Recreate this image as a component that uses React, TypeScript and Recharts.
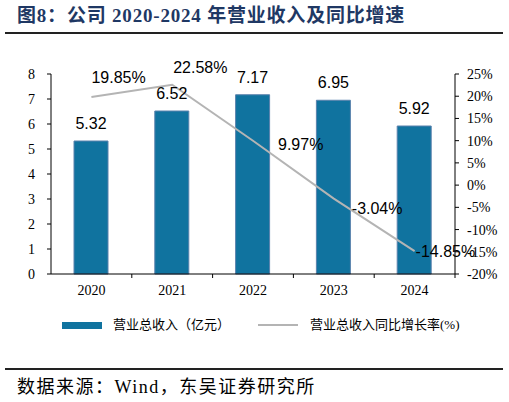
import React from "react"
import {
  ComposedChart,
  Bar,
  Line,
  XAxis,
  YAxis,
  LabelList,
} from "recharts"

const years = ["2020", "2021", "2022", "2023", "2024"]
const revenue = [5.32, 6.52, 7.17, 6.95, 5.92]
const growth = [19.85, 22.58, 9.97, -3.04, -14.85]
const leftTicks = [0, 1, 2, 3, 4, 5, 6, 7, 8]
const rightTicks = [-20, -15, -10, -5, 0, 5, 10, 15, 20, 25]

const data = years.map((y, i) => ({ year: y, revenue: revenue[i], growth: growth[i] }))

const BAR_COLOR = "#10739f"
const LINE_COLOR = "#b4b4b4"
const SERIF = '"Liberation Serif", "Times New Roman", "Noto Sans CJK SC", serif'
const CJK = '"Liberation Serif", "Noto Sans CJK SC", serif'
const ARIAL = '"Liberation Sans", Arial, sans-serif'

const W = 509
const PLOT_LEFT = 51
const PLOT_RIGHT = 455
const PLOT_BOTTOM = 274
const HALF_BAND = (PLOT_RIGHT - PLOT_LEFT) / years.length / 2

// label nudges for the growth line, by point
const lineLabelShift = [
  [0, -19],
  [1, -17],
  [25, 4],
  [18, 10],
  [1, 0],
]

function XTick(props: any) {
  const { x, payload } = props
  return (
    <g>
      <line x1={x + HALF_BAND} x2={x + HALF_BAND} y1={PLOT_BOTTOM} y2={PLOT_BOTTOM + 4} stroke="#000" />
      <text x={x} y={PLOT_BOTTOM + 21} textAnchor="middle" fontFamily={SERIF} fontSize={14} fill="#000">
        {payload.value}
      </text>
    </g>
  )
}

function GrowthLabel(props: any) {
  const { x, y, index, value } = props
  const [dx, dy] = lineLabelShift[index] ?? [0, 0]
  return (
    <text
      x={x + dx}
      y={y + dy}
      textAnchor="start"
      dominantBaseline="central"
      fontFamily={ARIAL}
      fontSize={16}
      fill="#000"
    >
      {`${Number(value).toFixed(2)}%`}
    </text>
  )
}

export default function App() {
  return (
    <div
      style={{
        position: "absolute",
        left: 0,
        top: 0,
        width: W,
        height: 402,
        background: "#fff",
        overflow: "hidden",
      }}
    >
      <div
        style={{
          position: "absolute",
          left: 17,
          top: 5,
          fontFamily: SERIF,
          fontWeight: "bold",
          fontSize: 19,
          letterSpacing: 0.8,
          color: "#1f3864",
          whiteSpace: "nowrap",
          lineHeight: "22px",
        }}
      >
        图8：公司 2020-2024 年营业收入及同比增速
      </div>
      <div style={{ position: "absolute", left: 5, top: 32, width: 498, height: 2, background: "#222" }} />

      <div style={{ position: "absolute", left: 0, top: 0 }}>
        <ComposedChart
          width={W}
          height={300}
          data={data}
          margin={{ top: 74, right: 0, bottom: 0, left: 0 }}
        >
          <XAxis
            dataKey="year"
            height={26}
            tick={<XTick />}
            tickLine={false}
            axisLine={{ stroke: "#000" }}
            interval={0}
          />
          <YAxis
            yAxisId="left"
            width={PLOT_LEFT}
            domain={[0, 8]}
            ticks={leftTicks}
            interval={0}
            tickSize={4}
            tickMargin={12}
            axisLine={{ stroke: "#000" }}
            tickLine={{ stroke: "#000" }}
            tick={{ fill: "#000", fontFamily: SERIF, fontSize: 14 }}
          />
          <YAxis
            yAxisId="right"
            orientation="right"
            width={W - PLOT_RIGHT}
            domain={[-20, 25]}
            ticks={rightTicks}
            interval={0}
            tickSize={4}
            tickMargin={8}
            axisLine={{ stroke: "#000" }}
            tickLine={{ stroke: "#000" }}
            tickFormatter={(v) => `${v}%`}
            tick={{ fill: "#000", fontFamily: SERIF, fontSize: 14 }}
          />
          <Bar
            yAxisId="left"
            dataKey="revenue"
            fill={BAR_COLOR}
            stroke="#5a82ad"
            strokeWidth={1}
            barSize={34}
            isAnimationActive={false}
          >
            <LabelList
              dataKey="revenue"
              position="top"
              offset={12}
              fontFamily={ARIAL}
              fontSize={16}
              fill="#000"
              formatter={(v: any) => Number(v).toFixed(2)}
            />
          </Bar>
          <Line
            yAxisId="right"
            dataKey="growth"
            stroke={LINE_COLOR}
            strokeWidth={2}
            dot={false}
            activeDot={false}
            isAnimationActive={false}
          >
            <LabelList dataKey="growth" content={<GrowthLabel />} />
          </Line>
        </ComposedChart>
      </div>

      <div style={{ position: "absolute", left: 62, top: 322, width: 40, height: 7, background: BAR_COLOR }} />
      <div
        style={{
          position: "absolute",
          left: 113,
          top: 316,
          fontFamily: CJK,
          fontSize: 13,
          lineHeight: "18px",
          whiteSpace: "nowrap",
          color: "#000",
        }}
      >
        营业总收入（亿元）
      </div>
      <div style={{ position: "absolute", left: 258, top: 324, width: 40, height: 2, background: LINE_COLOR }} />
      <div
        style={{
          position: "absolute",
          left: 310,
          top: 316,
          fontFamily: CJK,
          fontSize: 13,
          lineHeight: "18px",
          whiteSpace: "nowrap",
          color: "#000",
        }}
      >
        营业总收入同比增长率(%)
      </div>

      <div style={{ position: "absolute", left: 5, top: 368, width: 498, height: 2, background: "#222" }} />
      <div
        style={{
          position: "absolute",
          left: 17,
          top: 376,
          fontFamily: CJK,
          fontSize: 18,
          letterSpacing: 1.5,
          lineHeight: "22px",
          whiteSpace: "nowrap",
          color: "#000",
        }}
      >
        数据来源：Wind，东吴证券研究所
      </div>
    </div>
  )
}
